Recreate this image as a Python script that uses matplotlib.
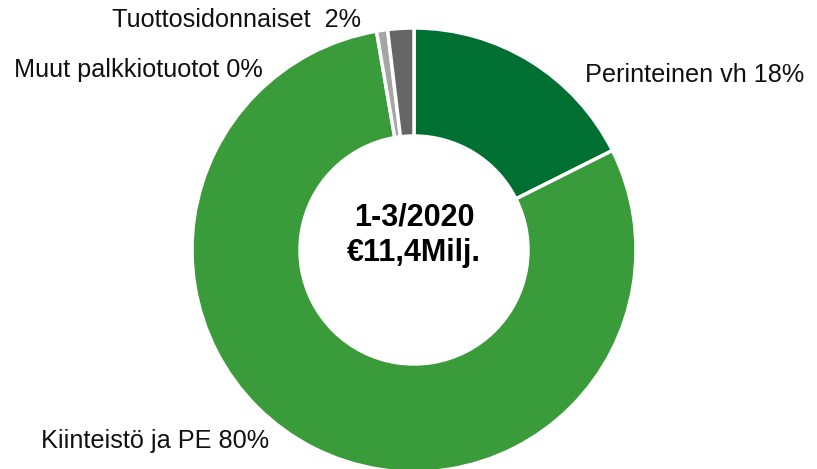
import matplotlib
matplotlib.use("Agg")
import matplotlib.pyplot as plt

plt.rcParams['font.family'] = ['Liberation Sans', 'DejaVu Sans']

# data (clockwise from top)
labels = ['Perinteinen vh 18%', 'Kiinteistö ja PE 80%', 'Muut palkkiotuotot 0%', 'Tuottosidonnaiset  2%']
values = [17.6, 79.7, 0.8, 1.9]
colors = ['#006F32', '#3A9B3A', '#A5A5A5', '#666666']
center_text = '1-3/2020\n€11,4Milj.'

fig = plt.figure(figsize=(8.17, 4.69), dpi=100)
ax = fig.add_axes([0, 0, 1, 1])

cx, cy, r = 414, 219, 222
ax.pie(values, colors=colors, startangle=90, counterclock=False,
       center=(cx, cy), radius=r, frame=True,
       wedgeprops=dict(width=108, edgecolor='white', linewidth=2.5))
ax.set_xlim(0, 817)
ax.set_ylim(0, 469)
ax.set_aspect('equal')
ax.axis('off')

# labels placed like the original
lab_pos = [(585, 394), (41, 28), (14, 399), (112, 449)]
for lab, (x, y) in zip(labels, lab_pos):
    ax.text(x, y, lab, ha='left', va='center', fontsize=18.2, color='#111111')

ax.text(cx, 234, center_text, ha='center', va='center', fontsize=22,
        fontweight='bold', linespacing=1.25)

fig.savefig('out.png', dpi=100)
